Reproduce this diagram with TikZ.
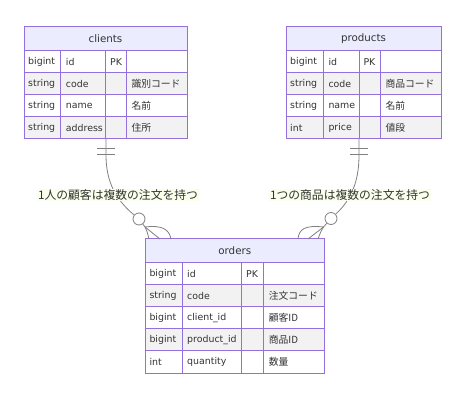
\documentclass[tikz,border=0pt]{standalone}
\usepackage{fontspec}
\setmainfont{DejaVu Sans}
\newfontfamily\jpfont{Noto Sans CJK JP}
\usetikzlibrary{positioning}

\definecolor{hdrfill}{HTML}{ECECFF}
\definecolor{tblline}{HTML}{9370DB}
\definecolor{rowgray}{HTML}{F2F2F2}
\definecolor{txt}{HTML}{333333}
\definecolor{lblfill}{HTML}{F9FFEC}
\definecolor{relline}{HTML}{808080}

\tikzset{
  hdr/.style={draw=tblline, fill=hdrfill, line width=1pt, inner sep=0pt, text=txt,
    font=\fontsize{10.3}{12}\selectfont},
  cellbox/.style={draw=tblline, line width=1pt},
  cell/.style={anchor=west, inner sep=0pt, text=txt, font=\fontsize{9.4}{11}\selectfont},
  jcell/.style={anchor=west, inner sep=0pt, text=txt, font=\jpfont\fontsize{9.8}{11}\selectfont},
  rel/.style={draw=relline, line width=0.8pt},
  relend/.style={circle, draw=relline, line width=0.8pt, fill=white, minimum size=12pt, inner sep=0pt},
  rellabel/.style={fill=lblfill, inner sep=1pt, text=txt, font=\jpfont\fontsize{11.8}{14}\selectfont},
}

\begin{document}
\begin{tikzpicture}[x=1pt, y=-1pt]
\useasboundingbox (0,0) rectangle (472,401);

% clients
\node [hdr, minimum width=163pt, minimum height=24pt] (clients) at (105.5,39) {clients};
\foreach \ty/\nm/\key/\cm [count=\i] in {bigint/id/PK/, string/code//識別コード, string/name//名前, string/address//住所} {
  \pgfmathsetmacro\ya{51+22*(\i-1)}
  \pgfmathsetmacro\ym{\ya+11}
  \ifodd\i \def\rf{white}\else \def\rf{rowgray}\fi
  \fill [\rf] (24,\ya) rectangle (187,\ya+22);
  \node [cell] (clients-\i-t) at (28,\ym) {\ty};
  \node [cell] (clients-\i-n) at (65.7,\ym) {\nm};
  \node [cell] (clients-\i-k) at (110,\ym) {\key};
  \node [jcell] (clients-\i-c) at (131.3,\ym) {\cm};
}
\draw [cellbox] (24,51) rectangle (187,139);
\foreach \y in {73,95,117} \draw [cellbox] (24,\y) -- (187,\y);
\foreach \x in {60.7,105.7,126} \draw [cellbox] (\x,51) -- (\x,139);

% products
\node [hdr, minimum width=155pt, minimum height=24pt] (products) at (363.5,39) {products};
\foreach \ty/\nm/\key/\cm [count=\i] in {bigint/id/PK/, string/code//商品コード, string/name//名前, int/price//値段} {
  \pgfmathsetmacro\ya{51+22*(\i-1)}
  \pgfmathsetmacro\ym{\ya+11}
  \ifodd\i \def\rf{white}\else \def\rf{rowgray}\fi
  \fill [\rf] (286,\ya) rectangle (441,\ya+22);
  \node [cell] (products-\i-t) at (290,\ym) {\ty};
  \node [cell] (products-\i-n) at (328.3,\ym) {\nm};
  \node [cell] (products-\i-k) at (363.3,\ym) {\key};
  \node [jcell] (products-\i-c) at (385.3,\ym) {\cm};
}
\draw [cellbox] (286,51) rectangle (441,139);
\foreach \y in {73,95,117} \draw [cellbox] (286,\y) -- (441,\y);
\foreach \x in {323.3,359,380} \draw [cellbox] (\x,51) -- (\x,139);

% orders
\node [hdr, minimum width=179pt, minimum height=24pt] (orders) at (234.8,251) {orders};
\foreach \ty/\nm/\key/\cm [count=\i] in {bigint/id/PK/, string/code//注文コード, bigint/client\_id//顧客ID, bigint/product\_id//商品ID, int/quantity//数量} {
  \pgfmathsetmacro\ya{263+22*(\i-1)}
  \pgfmathsetmacro\ym{\ya+11}
  \ifodd\i \def\rf{white}\else \def\rf{rowgray}\fi
  \fill [\rf] (145.3,\ya) rectangle (324.3,\ya+22);
  \node [cell] (orders-\i-t) at (149.3,\ym) {\ty};
  \node [cell] (orders-\i-n) at (187,\ym) {\nm};
  \node [cell] (orders-\i-k) at (246,\ym) {\key};
  \node [jcell] (orders-\i-c) at (268.6,\ym) {\cm};
}
\draw [cellbox] (145.3,263) rectangle (324.3,373);
\foreach \y in {285,307,329,351} \draw [cellbox] (145.3,\y) -- (324.3,\y);
\foreach \x in {182,241.7,263.3} \draw [cellbox] (\x,263) -- (\x,373);

% relationship ends
\coordinate (cl-out) at (106,139);
\coordinate (pr-out) at (359,139);
\coordinate (or-in1) at (145,227);
\coordinate (or-in2) at (323.5,227);
\node [relend] (o1) at (139,219) {};
\node [relend] (o2) at (331,218.5) {};

% clients -> orders
\draw [rel] (cl-out) -- ++(0,16) .. controls (106,182) and (116,200) .. (o1);
\draw [rel] ([xshift=-9pt,yshift=-9pt]cl-out) -- ([xshift=9pt,yshift=-9pt]cl-out);
\draw [rel] ([xshift=-9pt,yshift=-15pt]cl-out) -- ([xshift=9pt,yshift=-15pt]cl-out);
\draw [rel] (o1) -- (or-in1);
\draw [rel] (or-in1) .. controls (147,231) .. (149,239);
\draw [rel] (or-in1) -- (160,239);
\draw [rel] (or-in1) .. controls (162,225) and (169,229) .. (171,239);

% products -> orders
\draw [rel] (pr-out) -- ++(0,16) .. controls (359,182) and (351,200) .. (o2);
\draw [rel] ([xshift=-9pt,yshift=-9pt]pr-out) -- ([xshift=9pt,yshift=-9pt]pr-out);
\draw [rel] ([xshift=-9pt,yshift=-15pt]pr-out) -- ([xshift=9pt,yshift=-15pt]pr-out);
\draw [rel] (o2) -- (or-in2);
\draw [rel] (or-in2) .. controls (305,225) and (299,229) .. (298,239);
\draw [rel] (or-in2) -- (308,239);
\draw [rel] (or-in2) .. controls (321,231) .. (318,239);

\node [rellabel] (lbl1) at (118,195) {1人の顧客は複数の注文を持つ};
\node [rellabel] (lbl2) at (350,195) {1つの商品は複数の注文を持つ};
\end{tikzpicture}
\end{document}
